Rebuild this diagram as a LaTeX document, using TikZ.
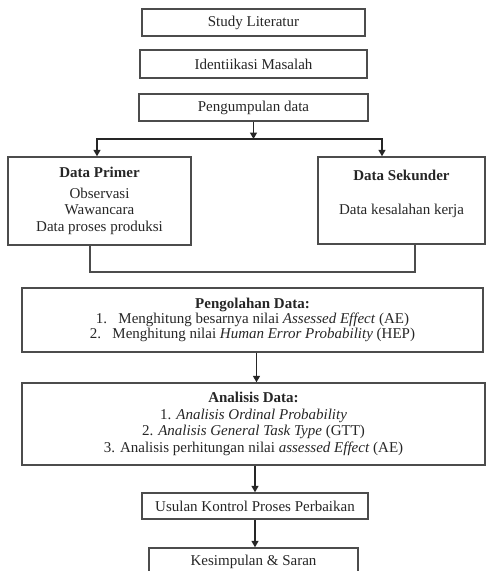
\documentclass[tikz,border=0pt]{standalone}
\usepackage{fontspec}
\setmainfont{Liberation Serif}
\usetikzlibrary{arrows.meta}
\begin{document}
\begin{tikzpicture}[x=1pt, y=-1pt,
    kotak/.style={draw=black!70, line width=1.4pt, align=center, inner sep=0pt,
      font=\fontsize{15}{16.7}\selectfont, text=black!85},
    panah/.style={-{Triangle[length=6.5pt,width=7pt]}, draw=black!85, line width=1.4pt},
    garis/.style={draw=black!70, line width=1.4pt}]
      \useasboundingbox (0, 0) rectangle (486, 571);
      \node [kotak, minimum width=223, minimum height=27] (studi) at (253.5, 22.5) {Study Literatur};
      \node [kotak, minimum width=227, minimum height=28] (identifikasi) at (253.5, 64) {Identiikasi Masalah};
      \node [kotak, minimum width=229, minimum height=27] (kumpul) at (253.5, 107.5) {Pengumpulan data};
      \node [kotak, minimum width=183, minimum height=88] (primer) at (99.5, 201) %
      {\textbf{Data Primer}\\[4pt]Observasi\\Wawancara\\Data proses produksi};
      \node [kotak, minimum width=167, minimum height=87] (sekunder) at (401.5, 200.5) %
      {\textbf{Data Sekunder}\\[18pt]Data kesalahan kerja\\~};
      \node [kotak, minimum width=461, minimum height=64, font=\fontsize{15}{15.5}\selectfont] %
      (olah) at (252.5, 320) %
      {\textbf{Pengolahan Data:}\\[-1pt]
        1.\enspace\ Menghitung besarnya nilai \textit{Assessed Effect} (AE)\\
        2.\enspace\ Menghitung nilai \textit{Human Error Probability} (HEP)};
      \node [kotak, minimum width=463, minimum height=82] (analisis) at (253.5, 424) %
      {\textbf{Analisis Data:}\\
        1. \textit{Analisis Ordinal Probability}\\
        2. \textit{Analisis General Task Type} (GTT)\\
        3. Analisis perhitungan nilai \textit{assessed Effect} (AE)};
      \node [kotak, minimum width=226, minimum height=26] (usulan) at (255, 506) {Usulan Kontrol Proses Perbaikan};
      \node [kotak, minimum width=209, minimum height=28] (simpul) at (253.5, 562) {Kesimpulan \& Saran};
      \coordinate (cabang) at (253.5, 139);
      \coordinate (gabung) at (253.5, 272);
      \draw [panah] (kumpul) -- (cabang);
      \draw [panah] (cabang) -| ([xshift=-2.5pt]primer.north);
      \draw [panah] (cabang) -| ([xshift=-19.5pt]sekunder.north);
      \draw [garis] ([xshift=-9.5pt]primer.south) |- (gabung) -| ([xshift=13.5pt]sekunder.south);
      \draw [panah] ([xshift=4pt]olah.south) -- ([xshift=3pt]analisis.north);
      \draw [panah] (analisis.south -| usulan.north) -- (usulan.north);
      \draw [panah] (usulan) -- (usulan.south |- simpul.north);
    \end{tikzpicture}
\end{document}
